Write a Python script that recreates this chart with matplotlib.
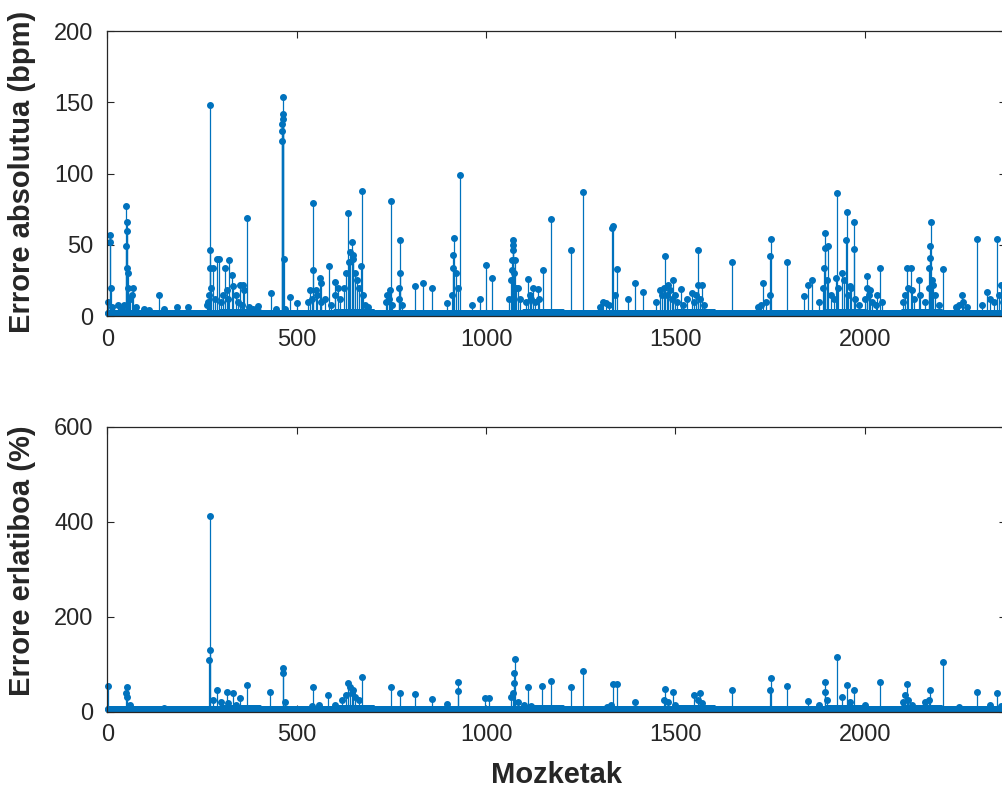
import numpy as np
import matplotlib
matplotlib.use("Agg")
import matplotlib.pyplot as plt

N = 2372
x_ticks = [0, 500, 1000, 1500, 2000]
abs_yticks = [0, 50, 100, 150, 200]
rel_yticks = [0, 200, 400, 600]
abs_label = "Errore absolutua (bpm)"
rel_label = "Errore erlatiboa (%)"
x_label = "Mozketak"

# Typical small error level per block of 100 samples (read from band height)
abs_floor = [2, 2, 2, 3, 2, 2, 3, 2, 2, 2, 2, 3, 2, 2, 2, 3, 2, 2, 2, 3, 2, 3, 2, 2]
rel_floor = [6, 5, 5, 7, 6, 6, 7, 6, 6, 6, 6, 7, 5, 6, 6, 7, 5, 6, 6, 7, 6, 7, 6, 6]

# Absolute error spikes (index, bpm)
abs_idx = [7, 8, 9, 29, 49, 50, 51, 52, 53, 54, 55, 58, 69, 97, 137, 183, 214,
           269, 270, 271, 272, 280, 290, 295, 311, 322, 328, 333, 350, 357, 368, 399, 431,
           460, 461, 462, 463, 464, 465, 466, 482, 500, 535, 543, 544, 551, 562, 563, 586,
           601, 610, 636, 645, 650, 671, 672, 689, 738, 747, 748, 771, 772, 773, 812, 834,
           858, 896, 913, 914, 915, 930, 962, 984, 1000, 1015,
           1068, 1069, 1070, 1071, 1072, 1077, 1112, 1125, 1136, 1150, 1171, 1225, 1257,
           1317, 1333, 1334, 1347, 1376, 1393, 1415, 1459, 1472, 1481, 1494, 1515, 1543,
           1560, 1561, 1570, 1649, 1717, 1732, 1750, 1751, 1752, 1796, 1840, 1849, 1862,
           1893, 1894, 1895, 1904, 1925, 1926, 1951, 1952, 1961, 1971, 1972, 2005, 2006,
           2014, 2032, 2040, 2111, 2122, 2142, 2171, 2172, 2173, 2174, 2181, 2206, 2256,
           2296, 2322, 2348, 2361]
abs_val = [57, 52, 20, 8, 49, 77, 66, 34, 60, 20, 30, 12, 20, 5, 15, 6, 6,
           15, 46, 148, 34, 34, 40, 40, 34, 39, 29, 21, 22, 22, 69, 7, 16,
           123, 130, 135, 138, 142, 154, 40, 13, 9, 18, 32, 79, 18, 27, 23, 35,
           24, 20, 72, 52, 43, 35, 88, 6, 15, 18, 81, 20, 30, 53, 21, 23,
           20, 9, 34, 43, 55, 99, 8, 12, 36, 27,
           32, 39, 46, 53, 50, 39, 26, 20, 19, 32, 68, 46, 87,
           9, 62, 63, 33, 12, 23, 17, 18, 42, 22, 25, 19, 16,
           22, 46, 22, 38, 6, 23, 15, 42, 54, 38, 14, 22, 25,
           34, 48, 58, 49, 27, 86, 53, 73, 21, 47, 66, 20, 28,
           18, 15, 34, 34, 34, 25, 34, 41, 49, 66, 22, 33, 15,
           54, 17, 54, 22]

# Absolute error, denser low-level stems (index, bpm)
abs_low_idx = [3, 12, 40, 45, 60, 64, 75, 110, 150, 262, 266, 275, 285, 300, 305, 315,
               320, 340, 345, 355, 362, 375, 385, 445, 470, 530, 540, 555, 565, 575, 590,
               600, 615, 625, 630, 638, 642, 648, 655, 660, 665, 675, 680, 735, 745, 752,
               770, 778, 910, 920, 925, 1060, 1065, 1075, 1080, 1085, 1090, 1105, 1115,
               1120, 1130, 1140, 1300, 1310, 1325, 1340, 1450, 1465, 1470, 1478, 1485,
               1490, 1500, 1505, 1520, 1530, 1550, 1555, 1565, 1575, 1725, 1740, 1880,
               1890, 1900, 1910, 1920, 1930, 1940, 1945, 1955, 1965, 1975, 1985, 2000,
               2010, 2020, 2030, 2045, 2100, 2105, 2115, 2125, 2130, 2145, 2160, 2170,
               2178, 2185, 2195, 2240, 2250, 2260, 2270, 2310, 2330, 2340, 2355, 2365]
abs_low_val = [10, 6, 5, 8, 12, 15, 6, 4, 5, 8, 10, 20, 12, 10, 15, 18,
               12, 15, 10, 8, 18, 6, 5, 5, 5, 10, 12, 15, 10, 12, 8,
               15, 12, 20, 30, 38, 45, 40, 30, 25, 20, 15, 8, 10, 12, 8,
               12, 8, 15, 30, 20, 12, 25, 30, 20, 20, 12, 10, 15,
               12, 10, 12, 6, 10, 8, 15, 10, 15, 20, 15, 18,
               12, 15, 10, 8, 12, 10, 15, 12, 8, 8, 10, 10,
               20, 25, 15, 12, 20, 30, 25, 15, 20, 12, 8, 12,
               15, 10, 8, 10, 10, 15, 20, 18, 12, 15, 10, 20,
               25, 15, 8, 6, 8, 10, 6, 8, 12, 10, 15, 10]

# Relative error spikes (index, %)
rel_idx = [3, 50, 51, 52, 269, 270, 271, 289, 315, 333, 350, 370, 430, 464, 465, 470,
           544, 584, 636, 640, 648, 672, 748, 773, 812, 858, 896, 925, 927, 998, 1008,
           1074, 1075, 1076, 1112, 1149, 1171, 1225, 1257, 1334, 1345, 1393, 1473, 1494,
           1548, 1564, 1649, 1751, 1752, 1796, 1850, 1894, 1895, 1926, 1952, 1972, 2040,
           2111, 2172, 2206, 2296, 2348]
rel_val = [55, 39, 51, 30, 109, 130, 413, 46, 42, 39, 28, 56, 42, 81, 91, 21,
           53, 35, 60, 53, 46, 74, 53, 39, 37, 26, 17, 44, 63, 28, 28,
           60, 81, 110, 53, 55, 65, 51, 86, 58, 58, 21, 47, 41,
           36, 39, 46, 46, 70, 54, 22, 42, 63, 116, 56, 46, 63,
           58, 46, 105, 42, 39]

rel_low_idx = [60, 150, 280, 300, 320, 340, 380, 540, 560, 600, 620, 630, 645, 655,
               665, 1065, 1070, 1085, 1100, 1120, 1320, 1330, 1470, 1480, 1500, 1560,
               1570, 1880, 1900, 1940, 1960, 2000, 2100, 2105, 2115, 2125, 2160, 2170,
               2250, 2330, 2360]
rel_low_val = [15, 8, 25, 20, 18, 15, 8, 12, 15, 15, 25, 35, 40, 30,
               25, 30, 40, 20, 15, 12, 10, 15, 25, 20, 15, 25,
               18, 15, 25, 30, 20, 15, 20, 35, 25, 15, 20, 25,
               10, 15, 12]

x = np.arange(1, N + 1)
block = (x - 1) // 100


def build(floor, low_idx, low_val, idx, val):
    y = np.array(floor, float)[block]
    np.maximum.at(y, np.array(low_idx) - 1, np.array(low_val, float))
    np.maximum.at(y, np.array(idx) - 1, np.array(val, float))
    return y


abs_err = build(abs_floor, abs_low_idx, abs_low_val, abs_idx, abs_val)
rel_err = build(rel_floor, rel_low_idx, rel_low_val, rel_idx, rel_val)

plt.rcParams['font.family'] = ['Liberation Sans', 'DejaVu Sans']
W, H = 1003, 796
fig = plt.figure(figsize=(W / 100, H / 100), dpi=100)
blue = '#0072BD'
grey = '#262626'

left_px, right_px = 107.3, 1006


def make_ax(top_px, bot_px):
    return fig.add_axes([left_px / W, 1 - bot_px / H,
                         (right_px - left_px) / W, (bot_px - top_px) / H])


ax1 = make_ax(31, 316)
ax2 = make_ax(426.7, 711.7)

for ax, y, yt, ylim in [(ax1, abs_err, abs_yticks, (0, 200)),
                        (ax2, rel_err, rel_yticks, (0, 600))]:
    ml, sl, bl = ax.stem(x, y, linefmt='-', markerfmt='o', basefmt='-')
    plt.setp(sl, color=blue, linewidth=0.9)
    plt.setp(ml, color=blue, markersize=4.0, markerfacecolor=blue,
             markeredgewidth=1.0, clip_on=False)
    plt.setp(bl, color=blue, linewidth=1.0)
    ax.set_xlim(0, N + 1)
    ax.set_ylim(*ylim)
    ax.set_xticks(x_ticks)
    ax.set_yticks(yt)
    ax.tick_params(direction='in', top=True, right=True, length=5, width=0.8,
                   labelsize=17, colors=grey, pad=10)
    ax.tick_params(axis='x', pad=9)
    for s in ax.spines.values():
        s.set_color(grey)
        s.set_linewidth(0.9)

fig.text(22 / W, 1 - 172 / H, abs_label, rotation=90, ha='center', va='center',
         fontsize=21, fontweight='bold', color=grey)
fig.text(22 / W, 1 - 561 / H, rel_label, rotation=90, ha='center', va='center',
         fontsize=21, fontweight='bold', color=grey)
fig.text(557 / W, 1 - 775 / H, x_label, ha='center', va='center',
         fontsize=21, fontweight='bold', color=grey)

fig.savefig('out.png', dpi=100)
